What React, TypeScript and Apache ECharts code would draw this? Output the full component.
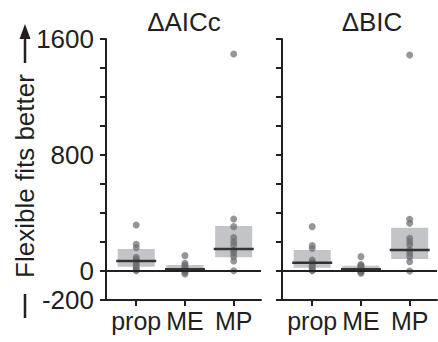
import React, { useEffect, useRef } from 'react';
import * as echarts from 'echarts';

const categories = ['prop', 'ME', 'MP'];
const panelTitles = ['ΔAICc', 'ΔBIC'];
const yTickLabels = [-200, 0, 800, 1600];
const yAxisName = 'Flexible fits better';

// box (lower edge, median, upper edge) per category
const aiccQ1 = [30, -3, 94];
const aiccMedian = [69, 12, 152];
const aiccQ3 = [152, 41, 310];
const bicQ1 = [23, -3, 83];
const bicMedian = [57, 12, 145];
const bicQ3 = [145, 37, 299];

// individual points per category
const aiccProp = [317, 184, 160, 95, 80, 68, 50, 35, 20, 8, 2];
const aiccME = [106, 53, 41, 30, 20, 12, 5, 0, -10, -20, 3];
const aiccMP = [1497, 359, 306, 230, 202, 179, 140, 122, 99, 69, 2];
const bicProp = [306, 175, 155, 76, 60, 53, 40, 30, 18, 7, 2];
const bicME = [99, 45, 38, 30, 20, 12, 5, 0, -8, -16, 3];
const bicMP = [1490, 357, 329, 226, 202, 179, 145, 122, 99, 64, 0];

const INK = '#231f20';
const FONT = '"Liberation Sans", Arial, sans-serif';

export default function App() {
  const ref = useRef<HTMLDivElement>(null);

  useEffect(() => {
    if (!ref.current) return;
    const chart = echarts.init(ref.current, null, { renderer: 'svg' });

    const panels = [
      { q1: aiccQ1, med: aiccMedian, q3: aiccQ3, pts: [aiccProp, aiccME, aiccMP] },
      { q1: bicQ1, med: bicMedian, q3: bicQ3, pts: [bicProp, bicME, bicMP] },
    ];
    const gridLefts = [106, 282];

    const grid = gridLefts.map((l) => ({ left: l, top: 39, width: 155, height: 261 }));

    const xAxis = panels.map((_, i) => ({
      type: 'value',
      gridIndex: i,
      min: 0.38,
      max: 3.56,
      splitLine: { show: false },
      axisLine: { show: true, onZero: false, lineStyle: { color: INK, width: 2 } },
      axisTick: {
        show: true,
        customValues: [1, 2, 3],
        length: 6,
        lineStyle: { color: INK, width: 2 },
      },
      axisLabel: {
        show: true,
        customValues: [1, 2, 3],
        formatter: (v: number) => categories[Math.round(v) - 1] ?? '',
        fontSize: 25,
        fontFamily: FONT,
        color: INK,
        margin: 8,
      },
    }));

    const yAxis = panels.map((_, i) => ({
      type: 'value',
      gridIndex: i,
      min: -200,
      max: 1600,
      interval: 200,
      splitLine: { show: false },
      axisLine: { show: true, onZero: false, lineStyle: { color: INK, width: 2 } },
      axisTick: { show: true, length: 6, lineStyle: { color: INK, width: 2 } },
      axisLabel: {
        show: i === 0,
        formatter: (v: number) => (yTickLabels.includes(v) ? String(v) : ''),
        fontSize: 26,
        fontFamily: FONT,
        color: INK,
        margin: 12,
      },
    }));

    const series: any[] = [];
    panels.forEach((p, i) => {
      const boxData = categories.map((_, c) => [c + 1, p.q1[c], p.q3[c]]);
      const medData = categories.map((_, c) => [c + 1, p.med[c]]);
      const ptData: number[][] = [];
      p.pts.forEach((arr, c) => arr.forEach((v) => ptData.push([c + 1, v])));

      series.push({
        type: 'custom',
        xAxisIndex: i,
        yAxisIndex: i,
        z: 1,
        silent: true,
        data: boxData,
        renderItem: (_params: any, api: any) => {
          const x = api.value(0);
          const a = api.coord([x - 0.38, api.value(2)]);
          const b = api.coord([x + 0.38, api.value(1)]);
          return {
            type: 'rect',
            shape: { x: a[0], y: a[1], width: b[0] - a[0], height: b[1] - a[1] },
            style: { fill: '#c3c4c7' },
          };
        },
        markLine: {
          silent: true,
          symbol: 'none',
          label: { show: false },
          lineStyle: { color: INK, width: 2, type: 'solid' },
          data: [{ yAxis: 0 }],
        },
      });
      series.push({
        type: 'scatter',
        xAxisIndex: i,
        yAxisIndex: i,
        z: 3,
        silent: true,
        symbolSize: 7,
        itemStyle: { color: '#6d6e71', opacity: 0.72 },
        data: ptData,
      });
      series.push({
        type: 'custom',
        xAxisIndex: i,
        yAxisIndex: i,
        z: 4,
        silent: true,
        data: medData,
        renderItem: (_params: any, api: any) => {
          const x = api.value(0);
          const a = api.coord([x - 0.41, api.value(1)]);
          const b = api.coord([x + 0.41, api.value(1)]);
          return {
            type: 'line',
            shape: { x1: a[0], y1: a[1], x2: b[0], y2: b[1] },
            style: { stroke: '#333333', lineWidth: 2.5 },
          };
        },
      });
    });

    const graphic: any[] = [
      {
        type: 'text',
        x: 184,
        y: 22,
        style: {
          text: panelTitles[0],
          fontSize: 26,
          fontFamily: FONT,
          fill: INK,
          align: 'center',
          verticalAlign: 'middle',
        },
      },
      {
        type: 'text',
        x: 372,
        y: 22,
        style: {
          text: panelTitles[1],
          fontSize: 26,
          fontFamily: FONT,
          fill: INK,
          align: 'center',
          verticalAlign: 'middle',
        },
      },
      {
        type: 'text',
        x: 25,
        y: 176,
        rotation: Math.PI / 2,
        style: {
          text: yAxisName,
          fontSize: 26,
          fontFamily: FONT,
          fill: INK,
          align: 'center',
          verticalAlign: 'middle',
        },
      },
      {
        type: 'line',
        shape: { x1: 25, y1: 63, x2: 25, y2: 36 },
        style: { stroke: INK, lineWidth: 2.5 },
      },
      {
        type: 'polygon',
        shape: { points: [[25, 24], [19.5, 39], [30.5, 39]] },
        style: { fill: INK },
      },
      {
        type: 'line',
        shape: { x1: 25, y1: 294, x2: 25, y2: 318 },
        style: { stroke: INK, lineWidth: 2.5 },
      },
    ];

    chart.setOption({
      animation: false,
      grid,
      xAxis,
      yAxis,
      series,
      graphic,
    });

    return () => chart.dispose();
  }, []);

  return (
    <div
      ref={ref}
      style={{ position: 'absolute', left: 0, top: 0, width: 438, height: 342, background: '#fff' }}
    />
  );
}
